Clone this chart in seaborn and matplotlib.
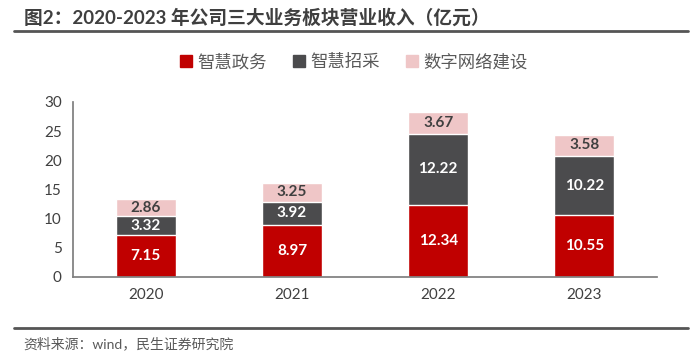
import matplotlib
matplotlib.use("Agg")
import matplotlib.pyplot as plt
import seaborn as sns
import pandas as pd
from matplotlib.lines import Line2D
from matplotlib.patches import Patch

# data (亿元)
years = ["2020", "2021", "2022", "2023"]
gov = [7.15, 8.97, 12.34, 10.55]        # 智慧政务
procure = [3.32, 3.92, 12.22, 10.22]    # 智慧招采
network = [2.86, 3.25, 3.67, 3.58]      # 数字网络建设
series_names = ["智慧政务", "智慧招采", "数字网络建设"]
colors = ["#C00000", "#4B4B4D", "#EFC6C7"]
text_colors = ["white", "white", "#404040"]

sns.set_theme(style="white")
plt.rcParams["font.family"] = ["Lato", "Noto Sans CJK SC", "DejaVu Sans"]
plt.rcParams["axes.unicode_minus"] = False

df = pd.DataFrame({"year": years, "gov": gov, "procure": procure, "network": network})
df["c1"] = df["gov"]
df["c2"] = df["gov"] + df["procure"]
df["c3"] = df["c2"] + df["network"]

fig = plt.figure(figsize=(7, 3.58), dpi=100)
ax = fig.add_axes([0.104, 0.2263, 0.835, 0.489])

# stacked bars: draw cumulative totals from top layer down
for col, c in zip(["c3", "c2", "c1"], colors[::-1]):
    sns.barplot(data=df, x="year", y=col, color=c, width=0.41, ax=ax,
                saturation=1, errorbar=None)

# value labels in the middle of each segment
for i in range(len(years)):
    bottoms = [0, df["c1"][i], df["c2"][i]]
    vals = [gov[i], procure[i], network[i]]
    for b, v, tc in zip(bottoms, vals, text_colors):
        ax.text(i, b + v / 2, f"{v:.2f}", ha="center", va="center",
                color=tc, fontsize=11, fontweight="bold")

ax.set_ylim(0, 30)
ax.set_yticks(range(0, 31, 5))
ax.set_xlim(-0.5, 3.5)
ax.set_xlabel("")
ax.set_ylabel("")
for s in ["top", "right"]:
    ax.spines[s].set_visible(False)
ax.spines["left"].set_color("#7f7f7f")
ax.spines["bottom"].set_color("#7f7f7f")
ax.tick_params(axis="both", length=0, labelsize=11, colors="#404040", pad=8)

handles = [Patch(color=c, label=n) for c, n in zip(colors, series_names)]
fig.legend(handles=handles, loc="center", bbox_to_anchor=(0.505, 0.827), ncol=3,
           frameon=False, fontsize=12.5, handlelength=0.7, handleheight=0.7,
           handletextpad=0.3, columnspacing=1.5, labelcolor="#595959")

# title and rules
fig.text(0.034, 0.952, "图2：2020-2023 年公司三大业务板块营业收入（亿元）",
         fontsize=13.5, fontweight="bold", color="#3F3F3F", va="center")
fig.add_artist(Line2D([0.02, 0.983], [0.913, 0.913], color="#555555", lw=2))
fig.add_artist(Line2D([0.02, 0.983], [0.084, 0.084], color="#555555", lw=2))
fig.text(0.034, 0.042, "资料来源：wind，民生证券研究院", fontsize=10,
         color="#595959", va="center")

fig.savefig("out.png", dpi=100)
